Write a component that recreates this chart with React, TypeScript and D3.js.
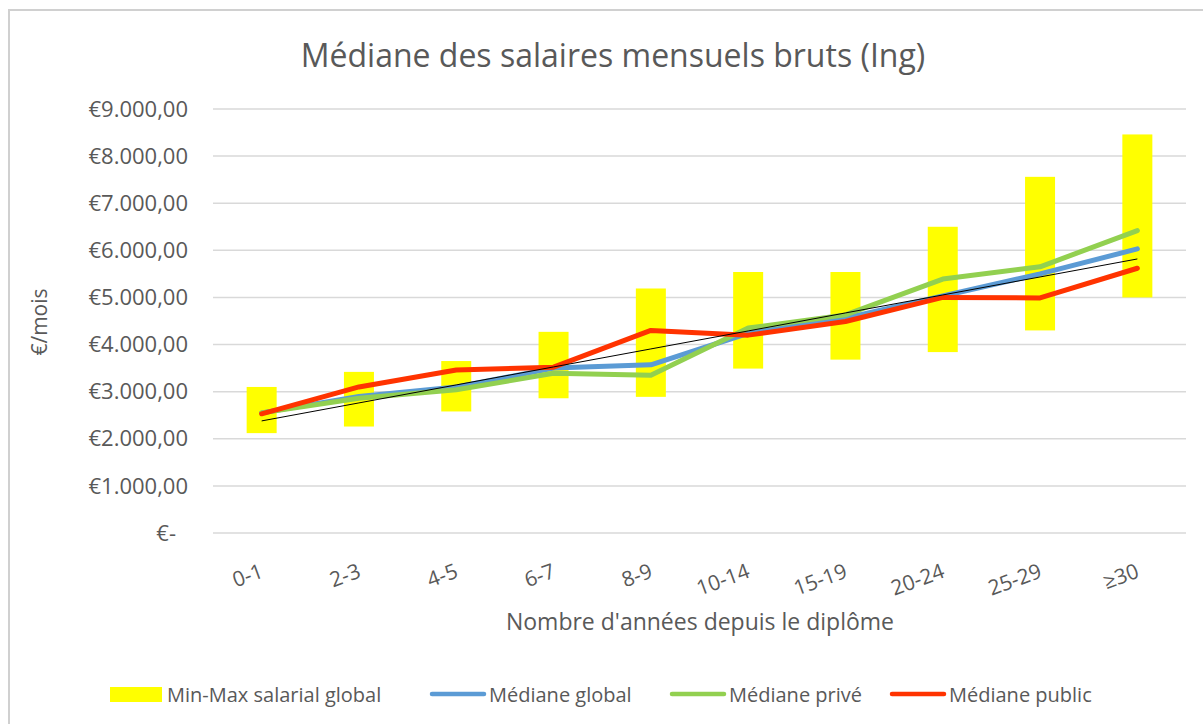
import * as d3 from "d3";

const categories = ["0-1", "2-3", "4-5", "6-7", "8-9", "10-14", "15-19", "20-24", "25-29", "≥30"];
const minValues = [2120, 2260, 2580, 2860, 2890, 3490, 3680, 3840, 4300, 5000];
const maxValues = [3100, 3420, 3650, 4270, 5190, 5540, 5540, 6500, 7560, 8460];
const medianGlobal = [2550, 2900, 3100, 3500, 3570, 4240, 4560, 5030, 5500, 6030];
const medianPrive = [2550, 2860, 3040, 3390, 3350, 4350, 4630, 5390, 5650, 6420];
const medianPublic = [2530, 3100, 3460, 3520, 4300, 4200, 4490, 5000, 4990, 5620];
const yTicks = [0, 1000, 2000, 3000, 4000, 5000, 6000, 7000, 8000, 9000];

const width = 1203;
const height = 724;
const font = "'Open Sans', 'Noto Sans', sans-serif";
const textColor = "#595959";

const series = [
  { name: "Médiane global", values: medianGlobal, color: "#5b9bd5" },
  { name: "Médiane privé", values: medianPrive, color: "#92d050" },
  { name: "Médiane public", values: medianPublic, color: "#ff3300" },
];

const locale = d3.formatLocale({
  decimal: ",",
  thousands: ".",
  grouping: [3],
  currency: ["€", ""],
});
const fmt = locale.format("$,.2f");

export default function App() {
  const x = d3.scaleBand().domain(categories).range([213, 1186]);
  const y = d3.scaleLinear().domain([0, 9000]).range([533, 109]);
  const cx = (c: string) => (x(c) ?? 0) + x.bandwidth() / 2;
  const barW = 30;

  const line = d3
    .line<number>()
    .x((_, i) => cx(categories[i]))
    .y((d) => y(d));

  // linear trend of the global median
  const idx = medianGlobal.map((_, i) => i);
  const mx = d3.mean(idx)!;
  const my = d3.mean(medianGlobal)!;
  const slope =
    d3.sum(idx, (i) => (i - mx) * (medianGlobal[i] - my)) /
    d3.sum(idx, (i) => (i - mx) * (i - mx));
  const intercept = my - slope * mx;
  const trend = idx.map((i) => intercept + slope * i);

  const legend = [
    { name: "Min-Max salarial global", type: "rect", color: "#ffff00", x0: 110 },
    { name: series[0].name, type: "line", color: series[0].color, x0: 432 },
    { name: series[1].name, type: "line", color: series[1].color, x0: 672 },
    { name: series[2].name, type: "line", color: series[2].color, x0: 892 },
  ];

  return (
    <svg
      width={width}
      height={height}
      style={{ position: "absolute", left: 0, top: 0, background: "#fff" }}
      fontFamily={font}
    >
      <rect x={9} y={10} width={1400} height={1000} fill="#fff" stroke="#d0d0d0" strokeWidth={2} />

      <text x={613} y={67} textAnchor="middle" fontSize={32} fill={textColor}>
        Médiane des salaires mensuels bruts (Ing)
      </text>

      {yTicks.map((t) => (
        <g key={t}>
          <line x1={213} x2={1186} y1={y(t)} y2={y(t)} stroke="#d9d9d9" strokeWidth={1.5} />
          <text
            x={t === 0 ? 176 : 188}
            y={y(t)}
            dy="0.35em"
            textAnchor="end"
            fontSize={22}
            fill={textColor}
          >
            {t === 0 ? "€-" : fmt(t)}
          </text>
        </g>
      ))}

      <text
        transform={`translate(47,322) rotate(-90)`}
        textAnchor="middle"
        fontSize={21}
        fill={textColor}
      >
        €/mois
      </text>

      {categories.map((c) => (
        <text
          key={c}
          transform={`translate(${cx(c) + 3},577) rotate(-20)`}
          textAnchor="end"
          fontSize={21}
          fill={textColor}
        >
          {c}
        </text>
      ))}

      <text x={700} y={630} textAnchor="middle" fontSize={23} fill={textColor}>
        Nombre d'années depuis le diplôme
      </text>

      {categories.map((c, i) => (
        <rect
          key={c}
          x={cx(c) - barW / 2}
          y={y(maxValues[i])}
          width={barW}
          height={y(minValues[i]) - y(maxValues[i])}
          fill="#ffff00"
        />
      ))}

      {series.map((s) => (
        <path
          key={s.name}
          d={line(s.values) ?? ""}
          fill="none"
          stroke={s.color}
          strokeWidth={5}
          strokeLinejoin="round"
          strokeLinecap="round"
        />
      ))}

      <path d={line(trend) ?? ""} fill="none" stroke="#000" strokeWidth={1} />

      {legend.map((l) => (
        <g key={l.name}>
          {l.type === "rect" ? (
            <rect x={l.x0} y={687} width={52} height={15} fill={l.color} />
          ) : (
            <line
              x1={l.x0}
              x2={l.x0 + 52}
              y1={694}
              y2={694}
              stroke={l.color}
              strokeWidth={4.5}
              strokeLinecap="round"
            />
          )}
          <text x={l.x0 + 57} y={702} fontSize={20} fill={textColor}>
            {l.name}
          </text>
        </g>
      ))}
    </svg>
  );
}
